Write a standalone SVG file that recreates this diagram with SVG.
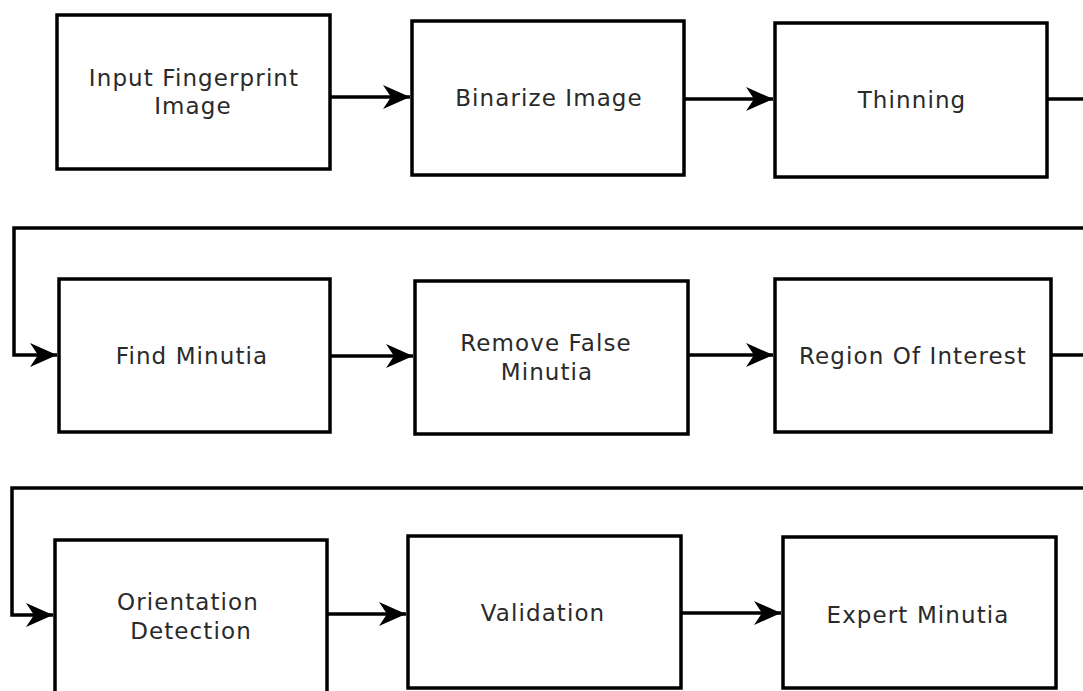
<svg xmlns="http://www.w3.org/2000/svg" width="1083" height="691" viewBox="0 0 1083 691">
<style>
.box{fill:#fff;stroke:#000;stroke-width:3.5}
.lbl{font-family:"DejaVu Sans",Verdana,sans-serif;font-size:23px;letter-spacing:1.1px;fill:#2a2a2a;text-anchor:middle}
.con{fill:none;stroke:#000;stroke-width:3.5}
</style>
<defs>
<marker id="arr" markerUnits="userSpaceOnUse" markerWidth="32" markerHeight="32" viewBox="-30 -15 32 30" refX="0" refY="0" orient="auto">
<path d="M0,0 L-27,-12 L-19,0 L-27,12 Z" fill="#000"/>
</marker>
</defs>
<rect width="1083" height="691" fill="#fff"/>
<g id="connectors">
<path class="con" d="M330,97 L410,97" marker-end="url(#arr)"/>
<path class="con" d="M684,99 L773,99" marker-end="url(#arr)"/>
<path class="con" d="M1047,99 L1100,99 L1100,228 L14,228 L14,355 L57,355" marker-end="url(#arr)"/>
<path class="con" d="M330,356 L413,356" marker-end="url(#arr)"/>
<path class="con" d="M688,355 L773,355" marker-end="url(#arr)"/>
<path class="con" d="M1051,355 L1100,355 L1100,488 L12,488 L12,615 L53,615" marker-end="url(#arr)"/>
<path class="con" d="M327,614 L406,614" marker-end="url(#arr)"/>
<path class="con" d="M681,613 L781,613" marker-end="url(#arr)"/>
</g>
<g id="n1"><rect class="box" x="57" y="15" width="273" height="154"/><text class="lbl" x="194" y="86">Input Fingerprint</text><text class="lbl" x="193" y="114">Image</text></g>
<g id="n2"><rect class="box" x="412" y="21" width="272" height="154"/><text class="lbl" x="549" y="106">Binarize Image</text></g>
<g id="n3"><rect class="box" x="775" y="23" width="272" height="154"/><text class="lbl" x="912" y="108">Thinning</text></g>
<g id="n4"><rect class="box" x="59" y="279" width="271" height="153"/><text class="lbl" x="192" y="364">Find Minutia</text></g>
<g id="n5"><rect class="box" x="415" y="281" width="273" height="153"/><text class="lbl" x="546" y="351">Remove False</text><text class="lbl" x="547" y="380">Minutia</text></g>
<g id="n6"><rect class="box" x="775" y="279" width="276" height="153"/><text class="lbl" x="913" y="364">Region Of Interest</text></g>
<g id="n7"><rect class="box" x="55" y="540" width="272" height="170"/><text class="lbl" x="188" y="610">Orientation</text><text class="lbl" x="191" y="639">Detection</text></g>
<g id="n8"><rect class="box" x="408" y="536" width="273" height="152"/><text class="lbl" x="543" y="621">Validation</text></g>
<g id="n9"><rect class="box" x="783" y="537" width="273" height="151"/><text class="lbl" x="918" y="623">Expert Minutia</text></g>
</svg>
